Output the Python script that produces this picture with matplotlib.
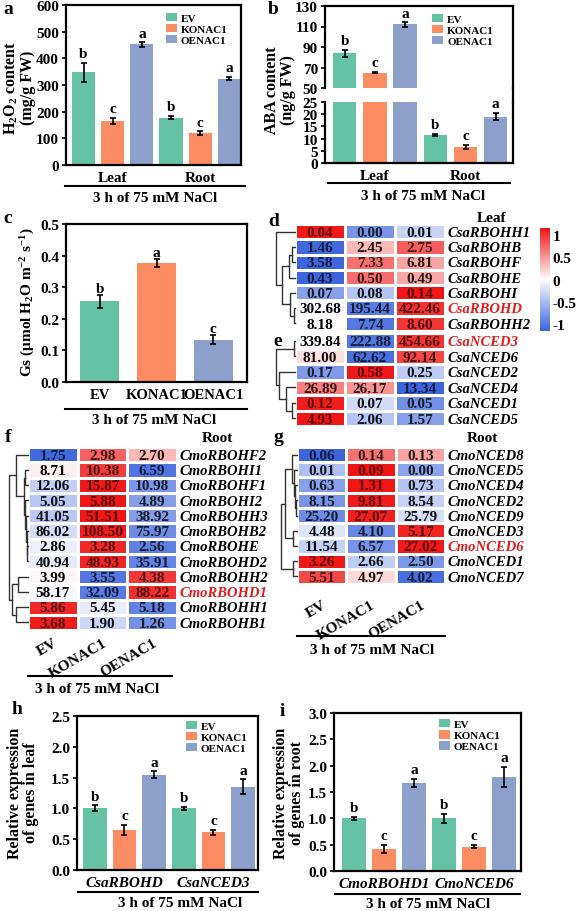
import numpy as np
import matplotlib
matplotlib.use('Agg')
import matplotlib.pyplot as plt
from matplotlib.colors import LinearSegmentedColormap, Normalize
from matplotlib.patches import Patch
from matplotlib.lines import Line2D

plt.rcParams['font.family'] = ['Liberation Serif', 'DejaVu Serif']
plt.rcParams['font.weight'] = 'bold'
plt.rcParams['axes.labelweight'] = 'bold'
plt.rcParams['mathtext.fontset'] = 'custom'
plt.rcParams['mathtext.rm'] = 'Liberation Serif:bold'
plt.rcParams['mathtext.it'] = 'Liberation Serif:bold:italic'
plt.rcParams['mathtext.bf'] = 'Liberation Serif:bold'
plt.rcParams['xtick.labelsize'] = 11
plt.rcParams['ytick.labelsize'] = 11

# ---------------- data ----------------
genotypes = ['EV', 'KONAC1', 'OENAC1']
bar_colors = ['#66c2a5', '#fc8d62', '#8da0cb']
tissues = ['Leaf', 'Root']
treatment = '3 h of 75 mM NaCl'

# a: H2O2 content, leaf EV/KO/OE then root EV/KO/OE
h2o2_mean = [348, 165, 452, 177, 120, 323]
h2o2_err = [36, 12, 8, 6, 6, 6]
h2o2_sig = ['b', 'c', 'a', 'b', 'c', 'a']

# b: ABA content
aba_mean = [84, 65, 112, 11.5, 6.5, 19.0]
aba_err = [3.5, 0.8, 2.0, 0.3, 0.8, 1.5]
aba_sig = ['b', 'c', 'a', 'b', 'c', 'a']

# c: stomatal conductance
gs_mean = [0.255, 0.377, 0.134]
gs_err = [0.020, 0.012, 0.015]
gs_sig = ['b', 'a', 'c']

# d: leaf RBOH genes
d_genes = ['CsaRBOHH1', 'CsaRBOHB', 'CsaRBOHF', 'CsaRBOHE', 'CsaRBOHI', 'CsaRBOHD', 'CsaRBOHH2']
d_vals = [[0.04, 0.00, 0.01], [1.46, 2.45, 2.75], [3.58, 7.33, 6.81], [0.43, 0.50, 0.49],
          [0.07, 0.08, 0.14], [302.68, 195.44, 422.46], [8.18, 7.74, 8.60]]
d_tree = (0, (((1, 2, 0.6), 3, 1.2), (4, (5, 6, 0.15), 1.0), 2.8), 4.0)

# e: leaf NCED genes
e_genes = ['CsaNCED3', 'CsaNCED6', 'CsaNCED2', 'CsaNCED4', 'CsaNCED1', 'CsaNCED5']
e_vals = [[339.84, 222.88, 454.66], [81.00, 62.62, 92.14], [0.17, 0.58, 0.25],
          [26.89, 26.17, 13.34], [0.12, 0.07, 0.05], [4.93, 2.06, 1.57]]
e_tree = ((0, 1, 0.2), (2, (3, (4, 5, 0.7), 1.9), 3.4), 4.0)

# f: root RBOH genes
f_genes = ['CmoRBOHF2', 'CmoRBOHI1', 'CmoRBOHF1', 'CmoRBOHI2', 'CmoRBOHH3', 'CmoRBOHB2',
           'CmoRBOHE', 'CmoRBOHD2', 'CmoRBOHH2', 'CmoRBOHD1', 'CmoRBOHH1', 'CmoRBOHB1']
f_vals = [[1.75, 2.98, 2.70], [8.71, 10.38, 6.59], [12.06, 15.87, 10.98], [5.05, 5.88, 4.89],
          [41.05, 51.51, 38.92], [86.02, 108.50, 75.97], [2.86, 3.28, 2.56], [40.94, 48.93, 35.91],
          [3.99, 3.55, 4.38], [58.17, 32.09, 88.22], [5.86, 5.45, 5.18], [3.68, 1.90, 1.26]]
f_tree = ((0, ((1, 2, 0.6), (3, (4, (5, (6, 7, 0.15), 0.3), 0.45), 0.6), 0.9), 2.5),
          ((8, 9, 2.2), (10, 11, 2.6), 3.3), 4.0)

# g: root NCED genes
g_genes = ['CmoNCED8', 'CmoNCED5', 'CmoNCED4', 'CmoNCED2', 'CmoNCED9', 'CmoNCED3',
           'CmoNCED6', 'CmoNCED1', 'CmoNCED7']
g_vals = [[0.06, 0.14, 0.13], [0.01, 0.09, 0.00], [0.63, 1.31, 0.73], [8.15, 9.81, 8.54],
          [25.20, 27.07, 25.79], [4.48, 4.10, 5.17], [11.54, 6.57, 27.02], [3.26, 2.66, 2.50],
          [5.51, 4.97, 4.02]]
g_tree = (((0, (1, (2, (3, 4, 0.3), 0.5), 0.7), 1.2), (5, 6, 1.0), 3.0), (7, 8, 1.0), 4.0)

red_genes = ['CsaRBOHD', 'CsaNCED3', 'CmoRBOHD1', 'CmoNCED6']

# h / i: qRT-PCR
h_genes = ['CsaRBOHD', 'CsaNCED3']
h_mean = [1.00, 0.65, 1.55, 1.00, 0.61, 1.35]
h_err = [0.05, 0.08, 0.05, 0.02, 0.04, 0.12]
i_genes = ['CmoRBOHD1', 'CmoNCED6']
i_mean = [1.00, 0.42, 1.67, 1.00, 0.46, 1.78]
i_err = [0.03, 0.07, 0.08, 0.09, 0.03, 0.19]
hi_sig = ['b', 'c', 'a', 'b', 'c', 'a']

# ---------------- helpers ----------------
W, H = 576, 912
fig = plt.figure(figsize=(W / 100, H / 100), dpi=100)

cmap = LinearSegmentedColormap.from_list('bwr2', ['#3d64dc', '#ffffff', '#f01414'])
norm = Normalize(vmin=-1.155, vmax=1.155)


def px_rect(l, t, r, b):
    return [l / W, 1 - b / H, (r - l) / W, (b - t) / H]


def ftext(x, y, s, **kw):
    kw.setdefault('ha', 'center')
    kw.setdefault('va', 'center')
    fig.text(x / W, 1 - y / H, s, **kw)


def fline(x0, x1, y0, y1=None, lw=1.5):
    y1 = y0 if y1 is None else y1
    fig.add_artist(Line2D([x0 / W, x1 / W], [1 - y0 / H, 1 - y1 / H], color='black', lw=lw))


def style(ax):
    for sp in ax.spines.values():
        sp.set_linewidth(1.6)
    ax.tick_params(axis='y', direction='out', length=3, width=1.2, pad=2)
    ax.tick_params(axis='x', length=0, pad=4)


def bars(ax, means, errs, sig, width=0.79, idx=None, lift=2):
    x = np.arange(len(means))
    cols = [bar_colors[i % 3] for i in x]
    ax.bar(x, means, width, color=cols)
    idx = list(x) if idx is None else idx
    ax.errorbar(x[idx], np.array(means)[idx], yerr=np.array(errs)[idx], fmt='none',
                ecolor='black', elinewidth=1.2, capsize=2, capthick=1.2)
    for k in idx:
        ax.annotate(sig[k], (x[k], means[k] + errs[k]), xytext=(0, lift),
                    textcoords='offset points', ha='center', va='bottom', fontsize=11)


def legend(ax, anchor):
    handles = [Patch(facecolor=c, label=l) for c, l in zip(bar_colors, genotypes)]
    ax.legend(handles=handles, loc='upper left', bbox_to_anchor=anchor, frameon=False,
              fontsize=8, handlelength=1.0, handleheight=0.75, handletextpad=0.35,
              labelspacing=0.1, borderpad=0, borderaxespad=0)


def draw_tree(ax, node):
    if isinstance(node, int):
        return node + 0.5, 0.0
    left, right, h = node
    yl, hl = draw_tree(ax, left)
    yr, hr = draw_tree(ax, right)
    ax.plot([hl, h, h, hr], [yl, yl, yr, yr], color='#333333', lw=1.0, clip_on=False)
    return (yl + yr) / 2, h


def text_color(rgb):
    sat = max(rgb) - min(rgb)
    return tuple(c * 0.45 * sat for c in rgb)


def heatmap(hm_px, dg_px, vals, genes, tree):
    vals = np.array(vals, dtype=float)
    z = (vals - vals.mean(axis=1, keepdims=True)) / vals.std(axis=1, ddof=1, keepdims=True)
    n = len(genes)
    ax = fig.add_axes(px_rect(*hm_px))
    ax.pcolormesh(np.arange(4), np.arange(n + 1), z, cmap=cmap, norm=norm,
                  edgecolors='white', linewidth=0.8)
    ax.set_xlim(0, 3)
    ax.set_ylim(n, 0)
    ax.axis('off')
    for i in range(n):
        for j in range(3):
            rgb = cmap(norm(z[i, j]))[:3]
            ax.text(j + 0.5, i + 0.55, f'{vals[i, j]:.2f}', ha='center', va='center',
                    fontsize=11, color=text_color(rgb))
        col = '#e31a1c' if genes[i] in red_genes else 'black'
        ax.text(3.06, i + 0.55, genes[i], ha='left', va='center', fontsize=10.5,
                style='italic', color=col, clip_on=False)
    dax = fig.add_axes(px_rect(*dg_px))
    draw_tree(dax, tree)
    dax.set_xlim(tree[2], 0)
    dax.set_ylim(n, 0)
    dax.axis('off')
    return ax


def col_labels(ax, n, dy):
    for j, lab in enumerate(genotypes):
        ax.annotate(lab, (j + 0.5, n), xytext=(0, -dy), textcoords='offset pixels',
                    rotation=30, ha='right', va='top', rotation_mode='anchor',
                    fontsize=11, annotation_clip=False)


# ---------------- a ----------------
ax = fig.add_axes(px_rect(66, 6, 241, 166))
bars(ax, h2o2_mean, h2o2_err, h2o2_sig)
ax.set_xlim(-0.6, 5.4)
ax.set_ylim(0, 600)
ax.set_yticks(range(0, 601, 100))
ax.set_xticks([1, 4], tissues)
style(ax)
legend(ax, (0.57, 0.95))
ftext(19, 88, 'H$_2$O$_2$ content\n(mg/g FW)', rotation=90, fontsize=11.5, linespacing=1.0)
fline(65, 245, 187)
ftext(155, 199, treatment, fontsize=11)
ftext(8, 9, 'a', fontsize=14)

# ---------------- b (broken axis) ----------------
axu = fig.add_axes(px_rect(325, 7, 513, 89))
axl = fig.add_axes(px_rect(325, 103, 513, 164))
bars(axu, aba_mean, aba_err, aba_sig, width=0.77, idx=[0, 1, 2])
bars(axl, aba_mean, aba_err, aba_sig, width=0.77, idx=[3, 4, 5])
for a_ in (axu, axl):
    a_.set_xlim(-0.65, 5.57)
    style(a_)
axu.set_ylim(50, 130)
axu.set_yticks(range(50, 131, 20))
axu.set_xticks([])
axu.spines['bottom'].set_visible(False)
axl.set_ylim(0, 25)
axl.set_yticks(range(0, 26, 5))
axl.set_xticks([1, 4], tissues)
axl.spines['top'].set_visible(False)
fline(513, 513, 88, 104, lw=1.6)
legend(axu, (0.57, 0.9))
ftext(280, 90, 'ABA content\n(ng/g FW)', rotation=90, fontsize=11.5, linespacing=1.0)
fline(328, 510, 184)
ftext(423, 197, treatment, fontsize=11)
ftext(273, 9, 'b', fontsize=14)

# ---------------- c ----------------
ax = fig.add_axes(px_rect(66, 225, 247, 383))
bars(ax, gs_mean, gs_err, gs_sig, width=0.69, lift=0)
ax.set_xlim(-0.6, 2.6)
ax.set_ylim(0, 0.5)
ax.set_yticks(np.arange(0, 0.51, 0.1), [f'{v:.1f}' for v in np.arange(0, 0.51, 0.1)])
ax.set_xticks(range(3), genotypes, fontsize=10.5)
style(ax)
ftext(28, 302, 'Gs (μmol H$_2$O m$^{-2}$ s$^{-1}$)', rotation=90, fontsize=11)
fline(65, 247, 410)
ftext(154, 421, treatment, fontsize=11)
ftext(8, 219, 'c', fontsize=14)

# ---------------- d / e ----------------
heatmap((295, 225, 445, 332), (276, 225, 295, 332), d_vals, d_genes, d_tree)
heatmap((295, 334, 445, 427), (276, 334, 295, 427), e_vals, e_genes, e_tree)
ftext(492, 218, 'Leaf', fontsize=11)
ftext(274, 222, 'd', fontsize=14)
ftext(278, 342, 'e', fontsize=14)

cax = fig.add_axes(px_rect(540, 229, 550, 332))
grad = np.linspace(norm.vmax, norm.vmin, 256)[:, None]
cax.imshow(grad, aspect='auto', cmap=cmap, norm=norm, extent=[0, 1, norm.vmin, norm.vmax])
cax.set_xticks([])
cax.yaxis.tick_right()
cax.set_yticks([1, 0.5, 0, -0.5, -1], ['1', '0.5', '0', '-0.5', '-1'])
cax.tick_params(length=0, pad=2)
for sp in cax.spines.values():
    sp.set_visible(False)

# ---------------- f ----------------
axf = heatmap((28, 448, 177, 631), (9, 448, 28, 631), f_vals, f_genes, f_tree)
col_labels(axf, len(f_genes), 6)
ftext(217, 439, 'Root', fontsize=11)
fline(28, 172, 677)
ftext(97, 690, treatment, fontsize=11)
ftext(8, 438, 'f', fontsize=14)

# ---------------- g ----------------
axg = heatmap((297, 448, 445, 585), (281, 448, 297, 585), g_vals, g_genes, g_tree)
col_labels(axg, len(g_genes), 14)
ftext(482, 439, 'Root', fontsize=11)
fline(297, 445, 637)
ftext(372, 650, treatment, fontsize=11)
ftext(278, 438, 'g', fontsize=14)

# ---------------- h ----------------
ax = fig.add_axes(px_rect(77, 717, 258, 871))
bars(ax, h_mean, h_err, hi_sig, width=0.8)
ax.set_xlim(-0.6, 5.5)
ax.set_ylim(0, 2.5)
ax.set_yticks(np.arange(0, 2.51, 0.5), [f'{v:.1f}' for v in np.arange(0, 2.51, 0.5)])
ax.set_xticks([1, 4], h_genes, style='italic')
style(ax)
legend(ax, (0.6, 0.97))
ftext(23, 793, 'Relative expression\nof genes in leaf', rotation=90, fontsize=11.5, linespacing=1.0)
fline(78, 258, 893)
ftext(180, 904, treatment, fontsize=11)
ftext(17, 710, 'h', fontsize=14)

# ---------------- i ----------------
ax = fig.add_axes(px_rect(334, 714, 521, 872))
bars(ax, i_mean, i_err, hi_sig, width=0.8)
ax.set_xlim(-0.65, 5.55)
ax.set_ylim(0, 3.0)
ax.set_yticks(np.arange(0, 3.01, 0.5), [f'{v:.1f}' for v in np.arange(0, 3.01, 0.5)])
ax.set_xticks([1, 4], i_genes, style='italic')
style(ax)
legend(ax, (0.56, 0.96))
ftext(289, 793, 'Relative expression\nof genes in root', rotation=90, fontsize=11.5, linespacing=1.0)
fline(335, 520, 895)
ftext(428, 905, treatment, fontsize=11)
ftext(282, 712, 'i', fontsize=14)

fig.savefig('out.png', dpi=100)
